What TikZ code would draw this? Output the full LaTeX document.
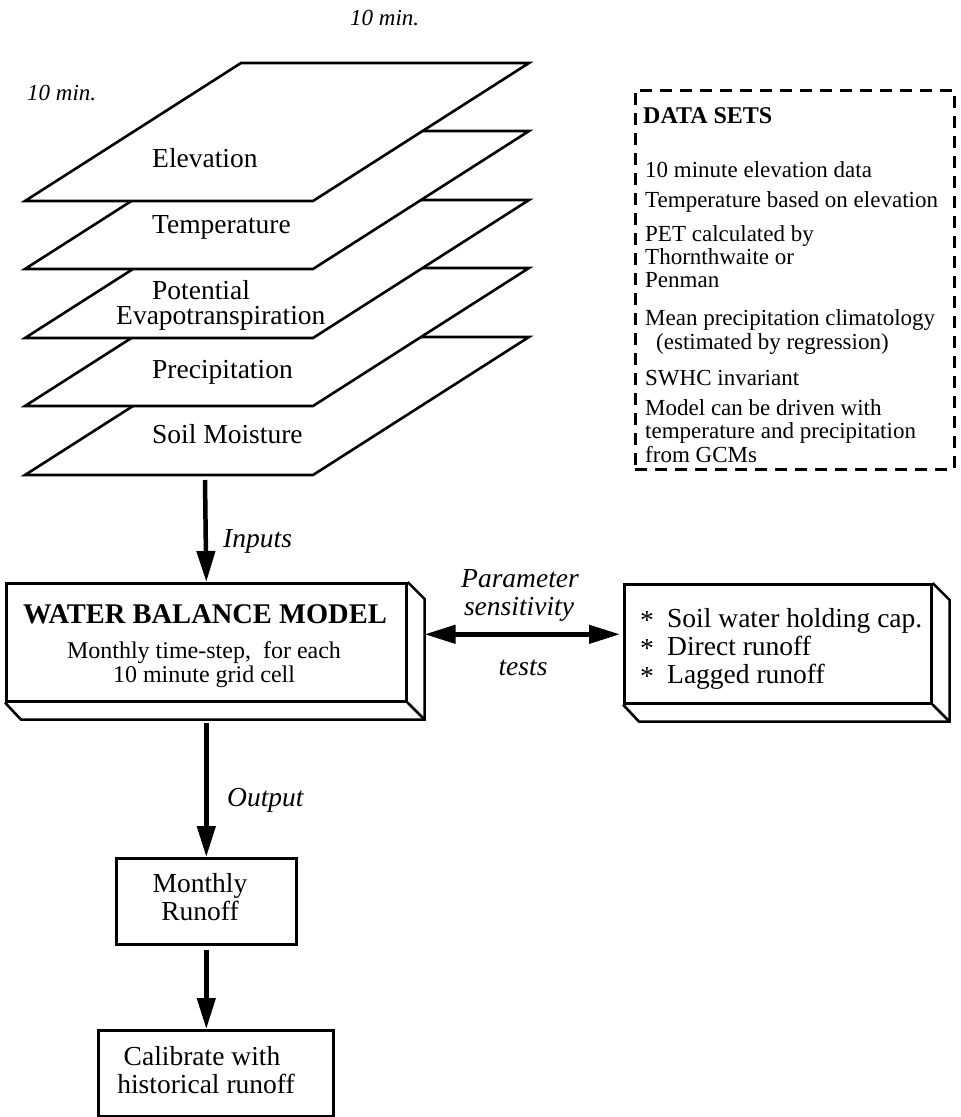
\documentclass[tikz,border=0pt]{standalone}
\usepackage{fontspec}
\setmainfont{Liberation Serif}
\usetikzlibrary{arrows.meta,calc}
\begin{document}
\begin{tikzpicture}[x=1pt,y=-1pt,line join=miter,
  plane/.style={draw,line width=2.6pt,fill=white},
  boxline/.style={draw,line width=2.6pt},
  flat/.style={boxline,inner sep=0pt,anchor=north west},
  big/.style={font=\fontsize{27.5}{29}\selectfont,inner sep=0pt},
  mid/.style={font=\fontsize{24}{25}\selectfont,inner sep=0pt},
  small/.style={font=\fontsize{23}{24}\selectfont,inner sep=0pt},
  ital/.style={font=\itshape\fontsize{27.5}{29}\selectfont,inner sep=0pt},
  itsmall/.style={font=\itshape\fontsize{23}{24}\selectfont,inner sep=0pt},
  arr/.style={line width=4.5pt,-{Triangle[length=31pt,width=18pt]}},
  arrtwo/.style={line width=4.5pt,{Triangle[length=31pt,width=18pt]}-{Triangle[length=31pt,width=18pt]}}]
\useasboundingbox (0,0) rectangle (961,1117);
\fill[white] (0,0) rectangle (961,1117);

% stacked planes (bottom first)
\foreach \yb in {475,406,338,269,201}
  \draw[plane] (25,\yb) -- (313,\yb) -- (529,\yb-138) -- (241,\yb-138) -- cycle;

\node[itsmall,anchor=base west] (mintop) at (350,25) {10 min.};
\node[itsmall,anchor=base west] (minleft) at (27,100) {10 min.};

\node[big,anchor=base west] (elev) at (152,167) {Elevation};
\node[big,anchor=base west] (temp) at (152,233) {Temperature};
\node[big,anchor=base west] (pot) at (152,299) {Potential};
\node[big,anchor=base west] (evap) at (116,324) {Evapotranspiration};
\node[big,anchor=base west] (prec) at (152,378) {Precipitation};
\node[big,anchor=base west] (soil) at (152,443) {Soil Moisture};
\coordinate (stackbot) at (205,480);

% data sets box
\node[flat,dash pattern=on 12pt off 8pt,minimum width=319pt,minimum height=379pt] (ds) at (634,89) {};
\node[font=\bfseries\fontsize{24}{25}\selectfont,inner sep=0pt,anchor=base west] (dst) at (643,123) {DATA SETS};
\node[small,anchor=base west] (d1) at (645,177) {10 minute elevation data};
\node[small,anchor=base west] (d2) at (645,207) {Temperature based on elevation};
\node[small,anchor=base west] (d3) at (645,241) {PET calculated by};
\node[small,anchor=base west] (d4) at (645,264) {Thornthwaite or};
\node[small,anchor=base west] (d5) at (645,287) {Penman};
\node[small,anchor=base west] (d6) at (645,325) {Mean precipitation climatology};
\node[small,anchor=base west] (d7) at (656,349) {(estimated by regression)};
\node[small,anchor=base west] (d8) at (645,385) {SWHC invariant};
\node[small,anchor=base west] (d9) at (645,415) {Model can be driven with};
\node[small,anchor=base west] (d10) at (645,438) {temperature and precipitation};
\node[small,anchor=base west] (d11) at (645,462) {from GCMs};

% water balance model box
\node[flat,minimum width=400pt,minimum height=118pt] (wbm) at (5,582) {};
\draw[line width=2.6pt] (wbm.north east) -- ++(17,17) |- ($(wbm.south west)+(16,17)$) -- (wbm.south west);
\draw[line width=2.6pt] (wbm.south east) -- ++(17,17);
\node[font=\bfseries\fontsize{28.5}{30}\selectfont,inner sep=0pt,anchor=base] (wbmt) at (205,623) {WATER BALANCE MODEL};
\node[mid,anchor=base] (wbm1) at (204,658) {Monthly time-step,\ \ for each};
\node[mid,anchor=base] (wbm2) at (204,682) {10 minute grid cell};

% sensitivity parameters box
\node[flat,minimum width=307pt,minimum height=119pt] (sens) at (623,583) {};
\draw[line width=2.6pt] (sens.north east) -- ++(17,17) |- ($(sens.south west)+(16,17)$) -- (sens.south west);
\draw[line width=2.6pt] (sens.south east) -- ++(17,17);
\node[big,anchor=base west] (a1) at (640,629) {*};
\node[big,anchor=base west] (s1) at (667,627) {Soil water holding cap.};
\node[big,anchor=base west] (a2) at (640,657) {*};
\node[big,anchor=base west] (s2) at (667,655) {Direct runoff};
\node[big,anchor=base west] (a3) at (640,685) {*};
\node[big,anchor=base west] (s3) at (667,683) {Lagged runoff};

% monthly runoff and calibrate boxes
\node[flat,minimum width=180pt,minimum height=86pt] (mr) at (115,857) {};
\node[big,anchor=base] (mr1) at (200,892) {Monthly};
\node[big,anchor=base] (mr2) at (200,920) {Runoff};
\node[flat,minimum width=235pt,minimum height=86pt] (cal) at (97,1029) {};
\node[big,anchor=base] (cal1) at (202,1065) {Calibrate with};
\node[big,anchor=base] (cal2) at (206,1093) {historical runoff};

% connectors
\draw[arr] (stackbot) -- (wbm.north);
\node[ital,anchor=base west] (inp) at (223,547) {Inputs};
\coordinate (wbmback) at ($(wbm.east)+(17,-8)$);
\coordinate (sensfront) at ($(sens.west)+(-3,-9.5)$);
\draw[arrtwo] (wbmback) -- (sensfront);
\node[ital,anchor=base] (par1) at (520,587) {Parameter};
\node[ital,anchor=base] (par2) at (519,615) {sensitivity};
\node[ital,anchor=base] (par3) at (523,675) {tests};
\coordinate (wbmout) at ($(wbm.south)+(0,20)$);
\draw[arr] (wbmout) -- (mr.north);
\node[ital,anchor=base west] (outp) at (227,806) {Output};
\coordinate (mrout) at ($(mr.south)+(0,4)$);
\draw[arr] (mrout) -- (mrout |- cal.north);
\end{tikzpicture}
\end{document}
